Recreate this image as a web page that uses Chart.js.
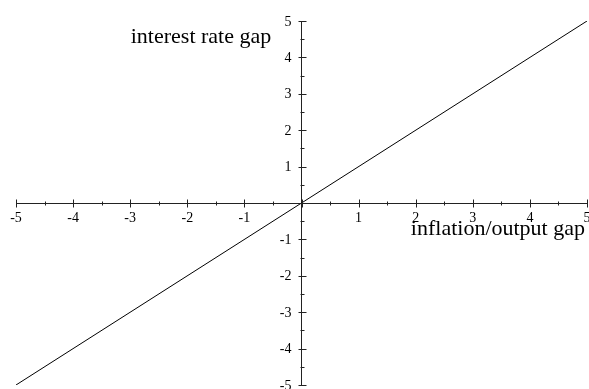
<!DOCTYPE html>
<html>
<head>
<meta charset="utf-8">
<script src="https://cdn.jsdelivr.net/npm/chart.js@4"></script>
<style>
html,body{margin:0;padding:0;background:#fff;}
#wrap{width:589px;height:389px;position:relative;}
</style>
</head>
<body>
<div id="wrap"><canvas id="c"></canvas></div>
<script>
// Data
const xValues = [-5, 5];
const yValues = [-5, 5];
const majorTicks = [-5, -4, -3, -2, -1, 0, 1, 2, 3, 4, 5];
const minorTicks = [-4.5, -3.5, -2.5, -1.5, -0.5, 0.5, 1.5, 2.5, 3.5, 4.5];
const xTitle = 'inflation/output gap';
const yTitle = 'interest rate gap';

const points = xValues.map((x, i) => ({x: x, y: yValues[i]}));
const labelFontFamily = '"Liberation Serif", "Times New Roman", serif';
const tickText = v => (v === 0 ? '' : String(v));

const crossTicks = {
  id: 'crossTicks',
  afterDraw(chart) {
    const ctx = chart.ctx;
    const xs = chart.scales.x, ys = chart.scales.y;
    const ox = Math.round(xs.getPixelForValue(0)) + 0.5, oy = Math.round(ys.getPixelForValue(0)) + 0.5;
    ctx.save();
    ctx.strokeStyle = '#222';
    ctx.lineWidth = 1;
    ctx.beginPath();
    majorTicks.forEach(v => {
      const px = Math.round(xs.getPixelForValue(v)) + 0.5;
      ctx.moveTo(px, oy - 4); ctx.lineTo(px, oy + 4);
      const py = Math.round(ys.getPixelForValue(v)) + 0.5;
      ctx.moveTo(ox - 4, py); ctx.lineTo(ox + 4, py);
    });
    minorTicks.forEach(v => {
      const px = Math.round(xs.getPixelForValue(v)) + 0.5;
      ctx.moveTo(px, oy - 2); ctx.lineTo(px, oy + 2);
      const py = Math.round(ys.getPixelForValue(v)) + 0.5;
      ctx.moveTo(ox - 2, py); ctx.lineTo(ox + 2, py);
    });
    ctx.stroke();
    ctx.fillStyle = '#000';
    ctx.font = '14px ' + labelFontFamily;
    ctx.textBaseline = 'middle';
    // x tick labels, below the horizontal axis
    ctx.textAlign = 'center';
    majorTicks.forEach(v => {
      const t = tickText(v);
      if (t) ctx.fillText(t, xs.getPixelForValue(v), oy + 15);
    });
    // y tick labels, left of the vertical axis
    ctx.textAlign = 'right';
    majorTicks.forEach(v => {
      const t = tickText(v);
      if (t) ctx.fillText(t, ox - 11, ys.getPixelForValue(v) + 1);
    });
    // axis titles
    ctx.font = '22px ' + labelFontFamily;
    ctx.textBaseline = 'alphabetic';
    ctx.textAlign = 'right';
    ctx.fillText(yTitle, xs.getPixelForValue(-0.53), ys.getPixelForValue(4.40));
    ctx.fillText(xTitle, xs.getPixelForValue(4.965), ys.getPixelForValue(-0.89));
    ctx.restore();
  }
};

new Chart(document.getElementById('c'), {
  type: 'scatter',
  data: {
    datasets: [{
      data: points,
      showLine: true,
      borderColor: '#000',
      borderWidth: 1,
      pointRadius: 0,
      fill: false
    }]
  },
  plugins: [crossTicks],
  options: {
    responsive: true,
    maintainAspectRatio: false,
    animation: false,
    layout: {padding: {left: 16, right: 2, top: 21, bottom: 4}},
    plugins: {legend: {display: false}, tooltip: {enabled: false}},
    scales: {
      x: {
        type: 'linear',
        position: {y: 0},
        min: -5, max: 5,
        afterBuildTicks: s => { s.ticks = majorTicks.map(v => ({value: v})); },
        grid: {display: false},
        border: {display: true, color: '#222', width: 1},
        ticks: {display: false}
      },
      y: {
        type: 'linear',
        position: {x: 0},
        min: -5, max: 5,
        afterBuildTicks: s => { s.ticks = majorTicks.map(v => ({value: v})); },
        grid: {display: false},
        border: {display: true, color: '#222', width: 1},
        ticks: {display: false}
      }
    }
  }
});
</script>
</body>
</html>
